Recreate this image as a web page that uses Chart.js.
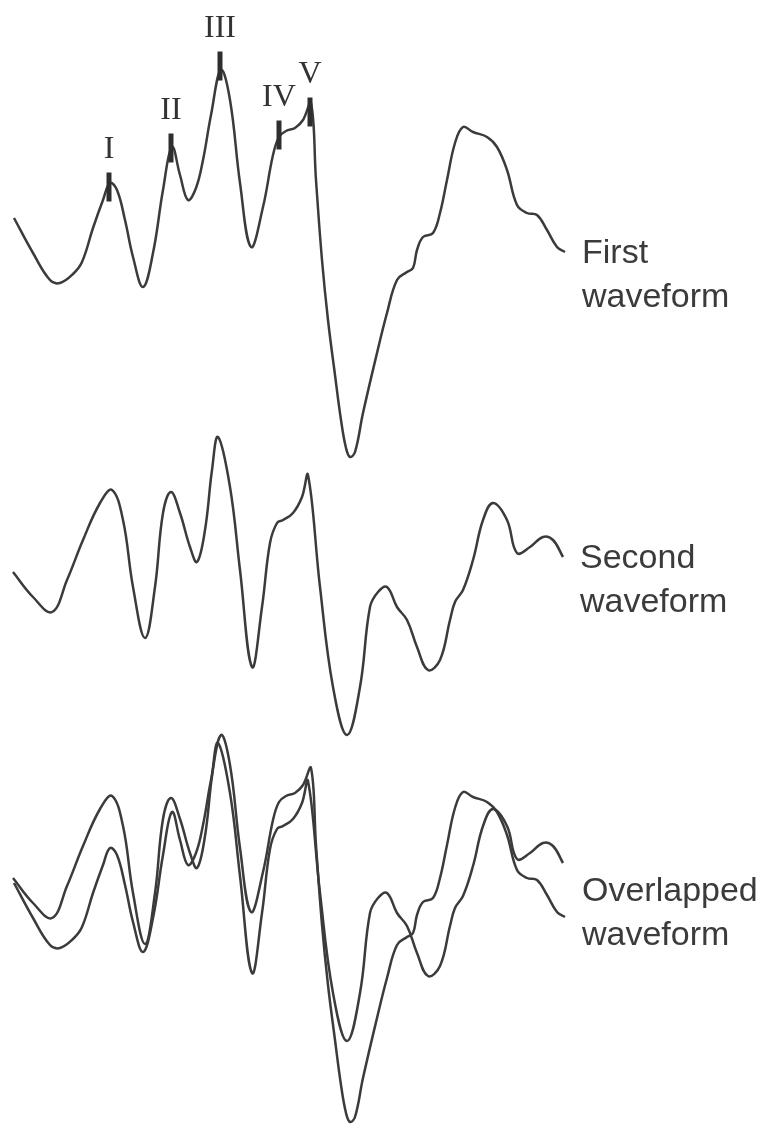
<!DOCTYPE html>
<html>
<head>
<meta charset="utf-8">
<title>Waveform comparison</title>
<style>
  html, body { margin: 0; padding: 0; background: #fff; }
  #wrap { width: 770px; height: 1126px; }
</style>
</head>
<body>
<div id="wrap"><canvas id="chart" width="770" height="1126"></canvas></div>

<script src="https://cdn.jsdelivr.net/npm/chart.js@4"></script>
<script>
// first waveform: sample time and amplitude (relative to its starting level)
const firstT = [14, 33, 50, 60, 73, 82, 93, 103, 110, 117, 125, 133, 143, 153, 163, 172, 180, 188, 196, 203,
  211, 221, 230, 240, 251, 263, 273, 279, 286, 295, 303, 311, 316, 322, 328, 335, 341, 346, 350, 355,
  363, 377, 387, 397, 407, 413, 417, 423, 433, 440, 447, 455, 463, 473, 487, 497, 507, 517, 527, 537,
  547, 557, 565];
const firstAmp = [0, -35, -62, -65, -56, -44, -10, 18, 35, 28, -2, -39, -69, -35, 28, 71, 43, 18, 30, 58,
  103, 148, 118, 35, -29, 11, 63, 81, 87, 90, 98, 115, 38, -42, -102, -157, -202, -230, -239, -234,
  -195, -135, -95, -62, -54, -50, -32, -19, -15, 5, 38, 75, 91, 86, 81, 71, 48, 13, 5, 3,
  -12, -29, -34];

// second waveform
const secondT = [13, 33, 52, 67, 83, 100, 112, 123, 133, 145, 155, 163, 171, 180, 190, 197, 205, 212, 218, 230,
  240, 252, 262, 270, 277, 283, 293, 302, 308, 320, 333, 347, 360, 370, 378, 387, 397, 407, 417, 428,
  440, 450, 455, 463, 473, 483, 493, 507, 517, 530, 543, 553, 563];
const secondAmp = [0, -25, -40, -8, 32, 69, 82, 52, -15, -66, -15, 59, 80, 59, 25, 10, 42, 102, 135, 85,
  2, -95, -35, 29, 49, 52, 59, 75, 97, -15, -115, -163, -115, -35, -20, -15, -35, -48, -75, -98,
  -88, -48, -30, -18, 12, 52, 69, 52, 19, 25, 35, 32, 15];

// peak marks on the first waveform
const peakNames = ['I', 'II', 'III', 'IV', 'V'];
const peakT = [109, 171, 220, 279, 310];
const peakAmp = [31, 70, 152, 83, 106];

const traceNames = [['First', 'waveform'], ['Second', 'waveform'], ['Overlapped', 'waveform']];

// zero line of each trace on the page (pixel rows from the top)
const base = { first: 218, second: 572, overFirst: 883, overSecond: 878 };

const ink = '#3b3b3b';

function toPoints(ts, amps, b) {
  return ts.map((t, i) => ({ x: t, y: amps[i] - b }));
}

function traceDataset(ts, amps, b) {
  return {
    data: toPoints(ts, amps, b),
    borderColor: ink,
    borderWidth: 2.5,
    pointRadius: 0,
    fill: false,
    tension: 0.4,
    order: 1
  };
}

const labelPlugin = {
  id: 'labels',
  afterDatasetsDraw(chart) {
    const ctx = chart.ctx;
    ctx.save();
    ctx.fillStyle = '#333';

    // roman numerals over the peak marks
    ctx.font = '32px "Liberation Serif", "DejaVu Serif", serif';
    ctx.textAlign = 'center';
    ctx.textBaseline = 'alphabetic';
    const marks = chart.getDatasetMeta(0).data;
    marks.forEach((el, i) => {
      ctx.fillText(peakNames[i], el.x, el.y - 29);
    });

    // trace names to the right of the line ends
    const endOf = idx => {
      const d = chart.getDatasetMeta(idx).data;
      return d[d.length - 1];
    };
    const a = endOf(1), b = endOf(2), c = endOf(3), d = endOf(4);
    const anchors = [
      { x: a.x, y: a.y },
      { x: b.x, y: b.y },
      { x: Math.max(c.x, d.x), y: (c.y + d.y) / 2 }
    ];
    ctx.font = '34px "Liberation Sans", Arial, sans-serif';
    ctx.textAlign = 'left';
    ctx.fillStyle = ink;
    anchors.forEach((p, i) => {
      traceNames[i].forEach((line, j) => {
        ctx.fillText(line, p.x + 17, p.y + 11 + j * 44);
      });
    });
    ctx.restore();
  }
};

new Chart(document.getElementById('chart'), {
  type: 'line',
  data: {
    datasets: [
      {
        data: peakT.map((t, i) => ({ x: t, y: peakAmp[i] - base.first })),
        showLine: false,
        pointStyle: 'line',
        pointRotation: 90,
        pointRadius: 14.5,
        pointBorderWidth: 5,
        pointBorderColor: '#2e2e2e',
        pointBackgroundColor: '#2e2e2e',
        order: 0
      },
      traceDataset(firstT, firstAmp, base.first),
      traceDataset(secondT, secondAmp, base.second),
      traceDataset(firstT, firstAmp, base.overFirst),
      traceDataset(secondT, secondAmp, base.overSecond)
    ]
  },
  options: {
    responsive: false,
    animation: false,
    events: [],
    layout: { padding: 0, autoPadding: false },
    plugins: {
      legend: { display: false },
      tooltip: { enabled: false }
    },
    scales: {
      x: { type: 'linear', min: 0, max: 770, display: false },
      y: { type: 'linear', min: -1126, max: 0, display: false }
    }
  },
  plugins: [labelPlugin]
});
</script>
</body>
</html>
